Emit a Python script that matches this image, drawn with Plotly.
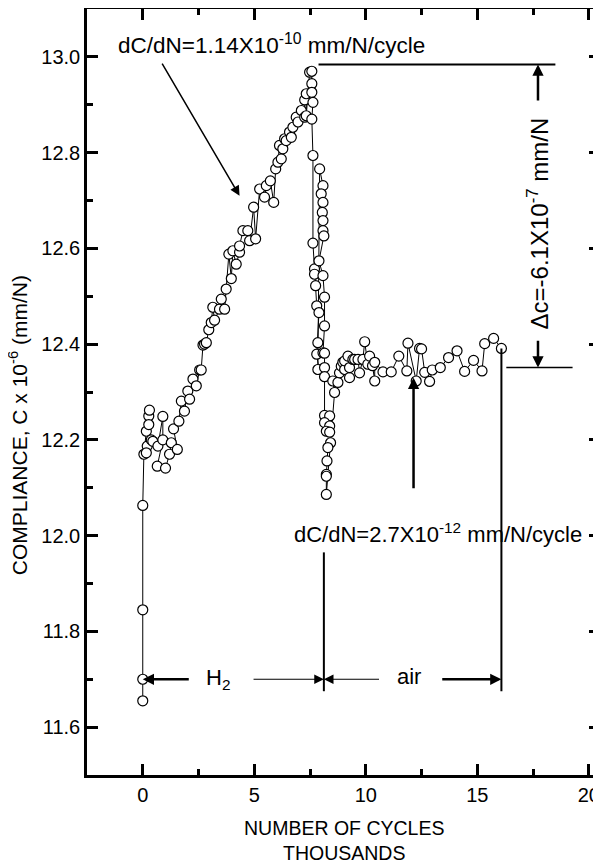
import plotly.graph_objects as go

# Data: number of cycles (thousands) and compliance (x1e-6 mm/N), in measurement order
cycles = [0.00, 0.00, 0.00, 0.00, 0.05, 0.16, 0.27, 0.30, 0.27, 0.20, 0.16, 0.38, 0.45, 0.68,
          0.90, 0.90, 0.65, 1.02, 1.20, 1.28, 1.55, 1.38, 1.62, 1.73, 1.87, 2.02, 2.10, 2.25,
          2.40, 2.55, 2.62, 2.70, 2.77, 2.85, 2.96, 3.07, 3.14, 3.22, 3.44, 3.52, 3.67, 3.74,
          3.86, 3.97, 4.04, 4.19, 4.34, 4.34, 4.49, 4.71, 4.79, 4.97, 5.06, 5.24, 5.46, 5.54,
          5.72, 5.87, 5.96, 6.06, 6.13, 6.21, 6.28, 6.36, 6.43, 6.58, 6.66, 6.73, 6.88, 6.96,
          7.11, 7.26, 7.26, 7.33, 7.33, 7.48, 7.58, 7.58, 7.58, 7.63, 7.58, 7.63, 7.63, 7.70,
          7.75, 7.70, 7.80, 7.90, 7.85, 7.80, 7.90, 7.85,
          7.93, 8.08, 8.00, 8.08, 8.05, 8.08, 8.08, 8.12, 7.90, 8.08, 8.15, 8.15, 8.08, 8.15,
          8.15, 8.15, 8.15, 8.38, 8.15, 8.38, 8.23, 8.38, 8.42, 8.30, 8.26, 8.23, 8.23, 8.23,
          8.60, 8.52, 8.75, 8.82, 8.90, 8.97, 9.05, 9.05, 9.20, 9.27, 9.27, 9.42, 9.50, 9.65,
          9.72, 9.87, 9.95, 10.09, 10.17, 10.30, 10.40, 10.40, 10.77, 11.14, 11.48, 11.84,
          11.89, 12.26, 12.41, 12.50, 12.64, 12.86, 12.98, 13.34, 13.71, 14.09, 14.43, 14.83,
          15.21, 15.33, 15.73, 16.08]
compliance = [11.655, 11.700, 11.845, 12.063, 12.170, 12.218, 12.250, 12.262, 12.232, 12.187,
              12.173, 12.200, 12.197, 12.187, 12.249, 12.200, 12.145, 12.141, 12.170, 12.194,
              12.180, 12.223, 12.239, 12.281, 12.260, 12.302, 12.285, 12.327, 12.313, 12.346,
              12.346, 12.398, 12.400, 12.403, 12.430, 12.445, 12.477, 12.450, 12.473, 12.494,
              12.473, 12.515, 12.588, 12.537, 12.595, 12.567, 12.592, 12.605, 12.637, 12.637,
              12.616, 12.686, 12.620, 12.724, 12.707, 12.731, 12.741, 12.696, 12.766, 12.780,
              12.815, 12.787, 12.808, 12.829, 12.825, 12.843, 12.832, 12.853, 12.874, 12.864,
              12.888, 12.874, 12.910, 12.923, 12.877, 12.968, 12.970, 12.944, 12.926, 12.905,
              12.870, 12.794, 12.611, 12.557, 12.522, 12.546, 12.480, 12.466, 12.403, 12.379,
              12.347, 12.347,
              12.766, 12.731, 12.714, 12.696, 12.675, 12.658, 12.637, 12.626, 12.574, 12.543,
              12.498, 12.438, 12.382, 12.381, 12.351, 12.332, 12.251, 12.250, 12.236, 12.229,
              12.218, 12.216, 12.194, 12.184, 12.156, 12.128, 12.124, 12.086,
              12.299, 12.323, 12.320, 12.340, 12.354, 12.362, 12.347, 12.365, 12.375, 12.330,
              12.351, 12.368, 12.368, 12.368, 12.340, 12.368, 12.405, 12.358, 12.375, 12.355,
              12.323, 12.362, 12.342, 12.342, 12.375, 12.344, 12.402, 12.323, 12.391, 12.390,
              12.341, 12.322, 12.346, 12.351, 12.372, 12.386, 12.343, 12.366, 12.344, 12.401,
              12.412, 12.391]

x_ticks = [0, 5, 10, 15, 20]
y_ticks = [11.6, 11.8, 12.0, 12.2, 12.4, 12.6, 12.8, 13.0]
x_range = [-2.5, 20.5]
y_range = [11.5, 13.1]

FONT = "Liberation Sans, Arial, Helvetica, sans-serif"

fig = go.Figure()
fig.add_trace(go.Scatter(
    x=cycles, y=compliance, mode="lines+markers",
    line=dict(color="black", width=1),
    marker=dict(symbol="circle", size=10, color="white", line=dict(color="black", width=1.2)),
    showlegend=False, hoverinfo="x+y"))

shapes = []
def seg(x0, y0, x1, y1, w):
    shapes.append(dict(type="line", xref="x", yref="y", x0=x0, y0=y0, x1=x1, y1=y1,
                       line=dict(color="black", width=w)))

seg(7.88, 12.984, 18.5, 12.984, 2)      # top reference line
seg(16.3, 12.351, 19.27, 12.351, 1.5)   # bottom reference line
seg(8.12, 11.965, 8.12, 11.675, 2)      # H2 / air boundary
seg(16.08, 12.391, 16.08, 11.675, 2)    # end of air segment

annotations = []
def arrow(x, y, ax, ay, w, size=1.0):
    annotations.append(dict(x=x, y=y, ax=ax, ay=ay, xref="x", yref="y", axref="x", ayref="y",
                            text="", showarrow=True, arrowhead=2, arrowsize=size,
                            arrowwidth=w, arrowcolor="black", standoff=0, startstandoff=0))

def label(x, y, text, size=22, angle=0, xref="x", yref="y"):
    annotations.append(dict(x=x, y=y, xref=xref, yref=yref, text=text, showarrow=False,
                            textangle=angle, font=dict(family=FONT, size=size, color="black"),
                            xanchor="center", yanchor="middle"))

label(5.79, 13.027, "dC/dN=1.14X10<sup>-10</sup> mm/N/cycle", size=22.5)
arrow(4.34, 12.71, 0.83, 12.989, 1.5, 1.3)
label(17.72, 12.652, "Δc=-6.1X10<sup>-7</sup> mm/N", size=24, angle=-90)
arrow(17.72, 12.984, 17.72, 12.906, 2.5, 0.9)
arrow(17.72, 12.351, 17.72, 12.41, 2.5, 0.9)
label(13.24, 12.006, "dC/dN=2.7X10<sup>-12</sup> mm/N/cycle")
arrow(12.14, 12.33, 12.14, 12.096, 2.5, 0.9)
# H2 / air arrows
arrow(0.0, 11.70, 2.13, 11.70, 2.5, 0.9)
arrow(8.12, 11.70, 4.9, 11.70, 1.2, 1.6)
label(3.38, 11.70, "H<sub>2</sub>")
arrow(8.12, 11.70, 10.66, 11.70, 1.2, 1.6)
label(11.95, 11.705, "air")
arrow(16.08, 11.70, 13.36, 11.70, 2.5, 0.9)

# axis titles
label(0.5, -0.085, "NUMBER OF CYCLES<br>THOUSANDS", size=19.5, xref="paper", yref="paper")
label(-0.134, 0.457, "COMPLIANCE, C x 10<sup>-6</sup> (mm/N)", size=21, angle=-90,
      xref="paper", yref="paper")

axis_common = dict(showline=True, linecolor="black", linewidth=2.5, mirror="ticks",
                   ticks="inside", ticklen=11, tickwidth=2.5, tickcolor="black",
                   showgrid=False, zeroline=False, automargin=False,
                   tickfont=dict(family=FONT, size=20, color="black"))

fig.update_xaxes(range=x_range, tickvals=x_ticks, ticktext=[str(v) for v in x_ticks],
                 minor=dict(ticks="inside", ticklen=6, tickwidth=2.5, tickcolor="black",
                            dtick=2.5, tick0=0),
                 **axis_common)
fig.update_yaxes(range=y_range, tickvals=y_ticks, ticktext=[f"{v:.1f}" for v in y_ticks],
                 minor=dict(ticks="inside", ticklen=6, tickwidth=2.5, tickcolor="black",
                            dtick=0.1, tick0=11.5),
                 **axis_common)

# The page body adds an 8px offset, so margins are shifted to keep the plot frame in place
fig.update_layout(width=601, height=868, margin=dict(l=79, r=9, t=1, b=101),
                  paper_bgcolor="white", plot_bgcolor="white",
                  font=dict(family=FONT, color="black"),
                  shapes=shapes, annotations=annotations, showlegend=False)

fig.write_html("out.html")
